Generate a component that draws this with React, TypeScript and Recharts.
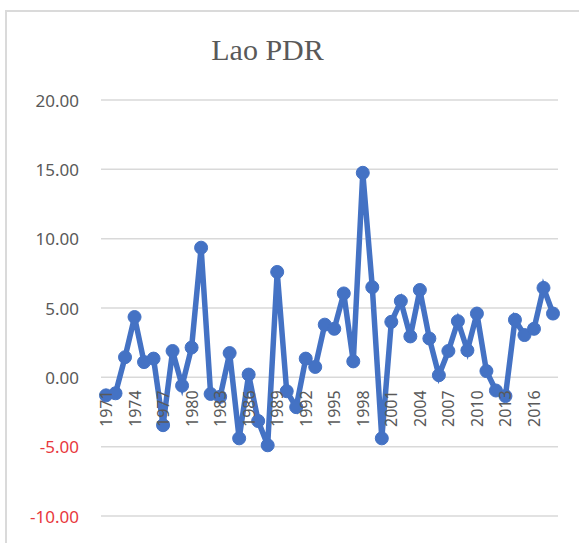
import { LineChart, Line, XAxis, YAxis, CartesianGrid } from "recharts";

const years = [
  "1971", "1972", "1973", "1974", "1975", "1976", "1977", "1978", "1979", "1980",
  "1981", "1982", "1983", "1984", "1985", "1986", "1987", "1988", "1989", "1990",
  "1991", "1992", "1993", "1994", "1995", "1996", "1997", "1998", "1999", "2000",
  "2001", "2002", "2003", "2004", "2005", "2006", "2007", "2008", "2009", "2010",
  "2011", "2012", "2013", "2014", "2015", "2016", "2017", "2018",
];

const values = [
  -1.3, -1.15, 1.45, 4.35, 1.1, 1.35, -3.45, 1.9, -0.6, 2.15,
  9.35, -1.2, -1.4, 1.75, -4.4, 0.2, -3.15, -4.9, 7.6, -1.0,
  -2.15, 1.35, 0.75, 3.8, 3.5, 6.05, 1.15, 14.75, 6.5, -4.4,
  4.0, 5.5, 2.95, 6.3, 2.8, 0.15, 1.9, 4.05, 1.95, 4.6,
  0.45, -0.95, -1.35, 4.15, 3.05, 3.5, 6.45, 4.6,
];

const yTicks = [-10, -5, 0, 5, 10, 15, 20];

const data = years.map((year, i) => ({ year, value: values[i] }));

const W = 579;
const H = 543;
const TOP = 100;
const BOTTOM = 516;
const Y_MIN = -10;
const Y_MAX = 20;
// pixel row of the zero line, where the category labels hang
const ZERO_Y = TOP + ((Y_MAX - 0) / (Y_MAX - Y_MIN)) * (BOTTOM - TOP);

const FONT = "'Noto Sans', 'Open Sans', sans-serif";
const GRAY = "#595959";
const BLUE = "#4472C4";

function XTick(props: any) {
  const { x, payload } = props;
  const y = ZERO_Y + 13;
  return (
    <text
      x={x}
      y={y}
      transform={`rotate(-90 ${x} ${y})`}
      textAnchor="end"
      dominantBaseline="central"
      fill={GRAY}
      fontSize={16}
      fontFamily={FONT}
    >
      {payload.value}
    </text>
  );
}

function YTick(props: any) {
  const { x, y, payload } = props;
  const v = Number(payload.value);
  return (
    <text
      x={x}
      y={y}
      textAnchor="end"
      dominantBaseline="central"
      fill={v < 0 ? "#e8383d" : GRAY}
      fontSize={17}
      fontFamily={FONT}
    >
      {v.toFixed(2)}
    </text>
  );
}

export default function App() {
  return (
    <div
      style={{
        position: "fixed",
        left: 0,
        top: 0,
        width: W,
        height: H,
        overflow: "hidden",
        background: "#fff",
      }}
    >
      <div
        style={{
          position: "absolute",
          left: 5,
          top: 10,
          width: 640,
          height: 640,
          border: "2px solid #dadada",
          boxSizing: "border-box",
        }}
      />
      <div
        style={{
          position: "absolute",
          left: 0,
          top: 32,
          width: 535,
          textAlign: "center",
          fontFamily: "'Liberation Serif', 'DejaVu Serif', serif",
          fontSize: 30,
          color: GRAY,
          lineHeight: "36px",
        }}
      >
        Lao PDR
      </div>
      <div style={{ position: "absolute", left: 0, top: 0 }}>
        <LineChart
          width={W}
          height={H}
          data={data}
          margin={{ top: TOP, right: 21, bottom: 7, left: 0 }}
        >
          <CartesianGrid vertical={false} stroke="#d9d9d9" strokeWidth={1.5} />
          <XAxis
            dataKey="year"
            axisLine={false}
            tickLine={false}
            interval={2}
            padding={{ left: 5, right: 5 }}
            height={H - 7 - BOTTOM}
            tick={<XTick />}
          />
          <YAxis
            domain={[Y_MIN, Y_MAX]}
            ticks={yTicks}
            axisLine={false}
            tickLine={false}
            width={101}
            tickMargin={16}
            tick={<YTick />}
          />
          <Line
            dataKey="value"
            stroke={BLUE}
            strokeWidth={5.5}
            dot={{ r: 6.5, fill: BLUE, stroke: BLUE, strokeWidth: 1 }}
            isAnimationActive={false}
          />
        </LineChart>
      </div>
    </div>
  );
}
